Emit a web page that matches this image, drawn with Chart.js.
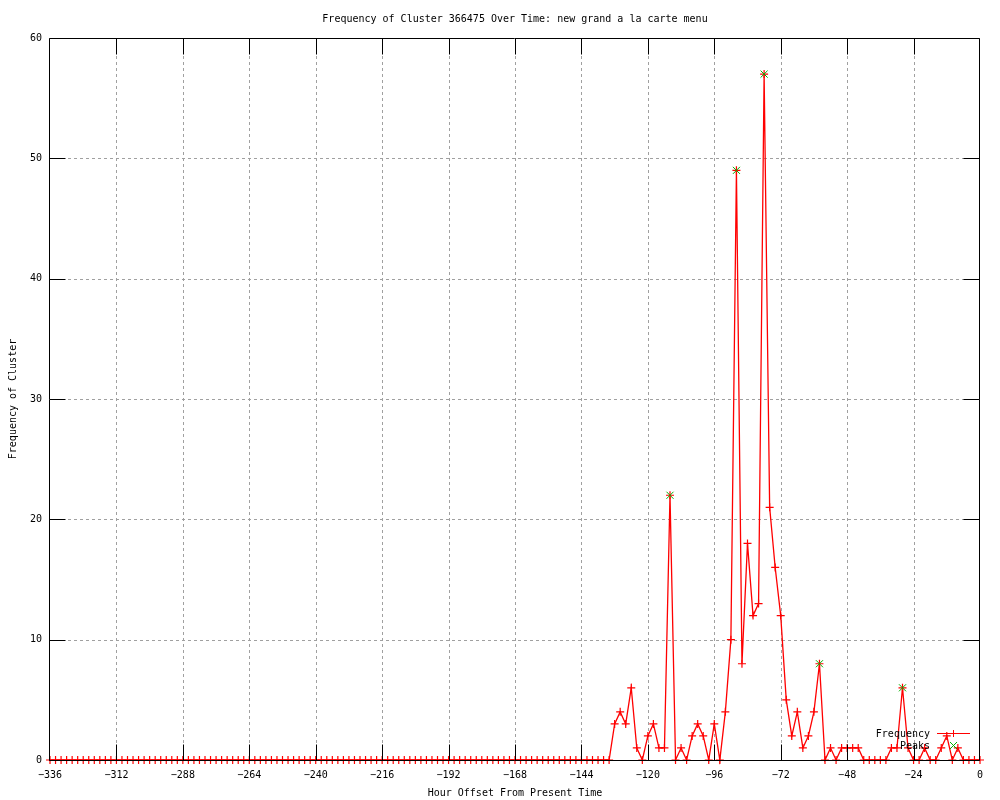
<!DOCTYPE html>
<html><head><meta charset="utf-8">
<script src="https://cdn.jsdelivr.net/npm/chart.js@4/dist/chart.umd.min.js"></script>
<style>html,body{margin:0;padding:0;background:#fff;} canvas{display:block;}</style>
</head><body>
<canvas id="c" width="1000" height="800"></canvas>
<script>
const hours = [
-336,-334,-332,-330,-328,-326,-324,-322,-320,-318,-316,-314,-312,-310,-308,-306,-304,-302,-300,-298,
-296,-294,-292,-290,-288,-286,-284,-282,-280,-278,-276,-274,-272,-270,-268,-266,-264,-262,-260,-258,
-256,-254,-252,-250,-248,-246,-244,-242,-240,-238,-236,-234,-232,-230,-228,-226,-224,-222,-220,-218,
-216,-214,-212,-210,-208,-206,-204,-202,-200,-198,-196,-194,-192,-190,-188,-186,-184,-182,-180,-178,
-176,-174,-172,-170,-168,-166,-164,-162,-160,-158,-156,-154,-152,-150,-148,-146,-144,-142,-140,-138,
-136,-134,-132,-130,-128,-126,-124,-122,-120,-118,-116,-114,-112,-110,-108,-106,-104,-102,-100,-98,
-96,-94,-92,-90,-88,-86,-84,-82,-80,-78,-76,-74,-72,-70,-68,-66,-64,-62,-60,-58,
-56,-54,-52,-50,-48,-46,-44,-42,-40,-38,-36,-34,-32,-30,-28,-26,-24,-22,-20,-18,
-16,-14,-12,-10,-8,-6,-4,-2,0];
const frequency = [
0,0,0,0,0,0,0,0,0,0,0,0,0,0,0,0,0,0,0,0,
0,0,0,0,0,0,0,0,0,0,0,0,0,0,0,0,0,0,0,0,
0,0,0,0,0,0,0,0,0,0,0,0,0,0,0,0,0,0,0,0,
0,0,0,0,0,0,0,0,0,0,0,0,0,0,0,0,0,0,0,0,
0,0,0,0,0,0,0,0,0,0,0,0,0,0,0,0,0,0,0,0,
0,0,3,4,3,6,1,0,2,3,1,1,22,0,1,0,2,3,2,0,
3,0,4,10,49,8,18,12,13,57,21,16,12,5,2,4,1,2,4,8,
0,1,0,1,1,1,1,0,0,0,0,0,1,1,6,1,0,0,1,0,
0,1,2,0,1,0,0,0,0];
const peakHours = [-112,-88,-78,-58,-28];
const peakValues = [22,49,57,8,6];
const xTicks = [-336,-312,-288,-264,-240,-216,-192,-168,-144,-120,-96,-72,-48,-24,0];
const yTicks = [0,10,20,30,40,50,60];
const titleText = 'Frequency of Cluster 366475 Over Time: new grand a la carte menu';
const xTitle = 'Hour Offset From Present Time';
const yTitle = 'Frequency of Cluster';
const seriesNames = ['Frequency','Peaks'];

const FONT = '"DejaVu Sans Mono", "Liberation Mono", monospace';
const RED = '#ff0000', GREEN = '#00b000';
const fmt = v => String(v).replace('-', '\u2212');

const freqData = hours.map((h,i)=>({x:h, y:frequency[i]}));
const peakData = peakHours.map((h,i)=>({x:h, y:peakValues[i]}));

const frame = {
  id:'frame',
  beforeDatasetsDraw(chart){
    const {ctx, chartArea:a, scales:{x,y}} = chart;
    ctx.save();
    ctx.strokeStyle='#a0a0a0'; ctx.lineWidth=1; ctx.setLineDash([3,3]);
    ctx.beginPath();
    xTicks.forEach(v=>{ if(v===x.min||v===x.max) return;
      const px=Math.round(x.getPixelForValue(v))+0.5; ctx.moveTo(px,a.top); ctx.lineTo(px,a.bottom);});
    yTicks.forEach(v=>{ if(v===y.min||v===y.max) return;
      const py=Math.round(y.getPixelForValue(v))+0.5; ctx.moveTo(a.left,py); ctx.lineTo(a.right,py);});
    ctx.stroke(); ctx.restore();
  },
  afterDatasetsDraw(chart){
    const {ctx, chartArea:a, scales:{x,y}} = chart;
    const L=Math.round(a.left)-0.5, R=Math.round(a.right)-0.5, T=Math.round(a.top)+0.5, B=Math.round(a.bottom)+0.5;
    ctx.save();
    ctx.strokeStyle='#000'; ctx.lineWidth=1; ctx.setLineDash([]);
    ctx.beginPath();
    ctx.rect(L,T,R-L,B-T);
    const tl=16;
    xTicks.forEach(v=>{ const px=Math.round(x.getPixelForValue(v))+0.5;
      if(v===x.min||v===x.max) return;
      ctx.moveTo(px,B); ctx.lineTo(px,B-tl); ctx.moveTo(px,T); ctx.lineTo(px,T+tl);});
    yTicks.forEach(v=>{ const py=Math.round(y.getPixelForValue(v))+0.5;
      ctx.moveTo(L,py); ctx.lineTo(L+tl,py); ctx.moveTo(R,py); ctx.lineTo(R-tl,py);});
    ctx.stroke();
    // title centred over the plot area
    ctx.font='10px '+FONT; ctx.fillStyle='#000'; ctx.textAlign='center'; ctx.textBaseline='middle';
    ctx.fillText(titleText, (a.left+a.right)/2, 19);
    // key
    ctx.textAlign='right';
    const kx=930, ky1=733, ky2=745;
    ctx.fillText(seriesNames[0], kx, ky1+1);
    ctx.fillText(seriesNames[1], kx, ky2+1);
    ctx.strokeStyle=RED; ctx.lineWidth=1; ctx.beginPath();
    ctx.moveTo(937,ky1+0.5); ctx.lineTo(970,ky1+0.5);
    ctx.moveTo(953.5,ky1-3); ctx.lineTo(953.5,ky1+4);
    ctx.stroke();
    ctx.strokeStyle=GREEN; ctx.beginPath();
    ctx.moveTo(950,ky2-3); ctx.lineTo(957,ky2+4);
    ctx.moveTo(957,ky2-3); ctx.lineTo(950,ky2+4);
    ctx.stroke();
    ctx.restore();
  }
};

new Chart(document.getElementById('c'), {
  type:'line',
  data:{datasets:[
    {label:seriesNames[0], data:freqData, borderColor:RED, backgroundColor:RED, borderWidth:1.3,
     pointStyle:'cross', pointRadius:4, pointBorderColor:RED, pointBorderWidth:1.2, pointHoverRadius:4,
     tension:0, fill:false, clip:false, order:2},
    {label:seriesNames[1], data:peakData, showLine:false, borderColor:GREEN, backgroundColor:GREEN,
     pointStyle:'crossRot', pointRadius:5, pointBorderColor:GREEN, pointBorderWidth:1, clip:false, order:1}
  ]},
  options:{
    responsive:false, animation:false, devicePixelRatio:1,
    layout:{padding:{left:0,right:20,top:38,bottom:0}},
    plugins:{
      legend:{display:false}, tooltip:{enabled:false}, title:{display:false}
    },
    scales:{
      x:{type:'linear', min:-336, max:0,
        afterBuildTicks:s=>{ s.ticks = xTicks.map(v=>({value:v})); },
        afterFit:s=>{ s.height=40; },
        grid:{display:false, drawTicks:false}, border:{display:false},
        ticks:{color:'#000', font:{family:FONT,size:10}, padding:9, maxRotation:0, autoSkip:false, callback:v=>fmt(v)},
        title:{display:true, text:xTitle, color:'#000', font:{family:FONT,size:10}, padding:{top:0,bottom:1}}
      },
      y:{min:0, max:60,
        afterBuildTicks:s=>{ s.ticks = yTicks.map(v=>({value:v})); },
        afterFit:s=>{ s.width=50; },
        grid:{display:false, drawTicks:false}, border:{display:false},
        ticks:{color:'#000', font:{family:FONT,size:10}, padding:8, callback:v=>fmt(v)},
        title:{display:true, text:yTitle, color:'#000', font:{family:FONT,size:10}, padding:{top:7,bottom:0}}
      }
    }
  },
  plugins:[frame]
});
</script>
</body></html>
